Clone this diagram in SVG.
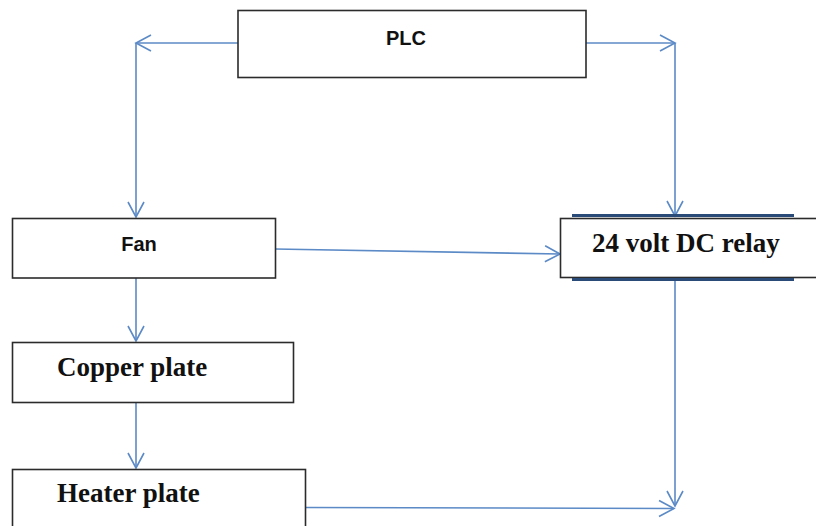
<svg xmlns="http://www.w3.org/2000/svg" width="816" height="526" viewBox="0 0 816 526">
<style>
.box{fill:#fff;stroke:#2b2b2b;stroke-width:1.6}
.ln{fill:none;stroke:#5b8ac6;stroke-width:1.6}
.sans{font-family:"Liberation Sans",Arial,sans-serif;font-weight:bold;font-size:20px;fill:#111}
.serif{font-family:"Liberation Serif","Times New Roman",serif;font-weight:bold;font-size:27px;fill:#111}
.bar{stroke:#2a4a78;stroke-width:3}
</style>
<defs>
<marker id="ah" markerUnits="userSpaceOnUse" markerWidth="20" markerHeight="20" viewBox="-16 -10 20 20" refX="0" refY="0" orient="auto">
<path d="M-15,-8 L0,0 L-15,8" fill="none" stroke="#5b8ac6" stroke-width="1.6"/>
</marker>
</defs>
<rect width="816" height="526" fill="#fff"/>
<g id="connectors">
<polyline class="ln" points="238,43 136,43" marker-end="url(#ah)"/>
<polyline class="ln" points="136,43 136,217" marker-end="url(#ah)"/>
<polyline class="ln" points="586,43 675,43" marker-end="url(#ah)"/>
<polyline class="ln" points="675,43 675,216" marker-end="url(#ah)"/>
<polyline class="ln" points="275,249 560,254" marker-end="url(#ah)"/>
<polyline class="ln" points="136,278 136,341" marker-end="url(#ah)"/>
<polyline class="ln" points="136,402 136,468" marker-end="url(#ah)"/>
<polyline class="ln" points="675,280 675,506" marker-end="url(#ah)"/>
<polyline class="ln" points="305,507.5 674,508.5" marker-end="url(#ah)"/>
</g>
<g id="plc">
<rect class="box" x="238" y="10.5" width="348" height="67"/>
<text class="sans" x="406" y="45" text-anchor="middle">PLC</text>
</g>
<g id="fan">
<rect class="box" x="12.5" y="218.5" width="263" height="59.5"/>
<text class="sans" x="139" y="250.5" text-anchor="middle">Fan</text>
</g>
<g id="relay">
<rect class="box" x="560.5" y="218.5" width="260" height="59"/>
<line class="bar" x1="572" y1="215.5" x2="794" y2="215.5"/>
<line class="bar" x1="572" y1="279.5" x2="794" y2="279.5"/>
<text class="serif" x="592" y="252" font-size="28">24 volt DC relay</text>
</g>
<g id="copper">
<rect class="box" x="12.5" y="342.5" width="281" height="60"/>
<text class="serif" x="57" y="375.5">Copper plate</text>
</g>
<g id="heater">
<rect class="box" x="12.5" y="469.5" width="293" height="70"/>
<text class="serif" x="57" y="502">Heater plate</text>
</g>
</svg>
